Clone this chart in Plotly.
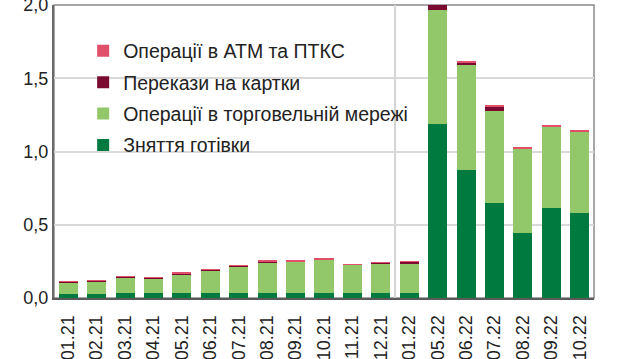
import plotly.graph_objects as go

categories = ["01.21", "02.21", "03.21", "04.21", "05.21", "06.21", "07.21", "08.21",
              "09.21", "10.21", "11.21", "12.21", "01.22", "05.22", "06.22", "07.22",
              "08.22", "09.22", "10.22"]

cash = [0.028, 0.028, 0.034, 0.032, 0.033, 0.034, 0.034, 0.034, 0.034, 0.034, 0.033, 0.033,
        0.033, 1.190, 0.875, 0.646, 0.447, 0.611, 0.578]
trade = [0.079, 0.083, 0.105, 0.100, 0.129, 0.155, 0.182, 0.211, 0.214, 0.227, 0.194, 0.201,
         0.203, 0.774, 0.713, 0.633, 0.572, 0.558, 0.557]
transfers = [0.006, 0.007, 0.008, 0.007, 0.007, 0.005, 0.006, 0.007, 0.004, 0.004, 0.003, 0.005,
             0.010, 0.040, 0.020, 0.030, 0.004, 0.003, 0.003]
atm = [0.003, 0.003, 0.003, 0.003, 0.003, 0.003, 0.003, 0.003, 0.002, 0.002, 0.002, 0.003,
       0.004, 0.002, 0.004, 0.003, 0.003, 0.003, 0.003]

names = ["Зняття готівки", "Операції в торговельній мережі", "Перекази на картки",
         "Операції в АТМ та ПТКС"]
colors = ["#007A3E", "#92C86A", "#7A0A30", "#E0506A"]
series = [cash, trade, transfers, atm]

font = "Liberation Sans, Arial, sans-serif"

fig = go.Figure()
for i, (nm, col, vals) in enumerate(zip(names, colors, series)):
    fig.add_trace(go.Bar(x=categories, y=vals, name=nm, marker_color=col,
                         marker_line_width=0, legendgroup=str(i), legendrank=10 - i))

sep_x = categories.index("01.22") - 0.5

fig.update_layout(
    width=640, height=359,
    barmode="stack", bargap=0.33,
    margin=dict(l=54, r=46, t=5, b=61, autoexpand=False),
    plot_bgcolor="white", paper_bgcolor="white",
    separators=", ",
    font=dict(family=font, size=18, color="#222222"),
    showlegend=True,
    legend=dict(x=0.054, y=0.909, xanchor="left", yanchor="top",
                traceorder="grouped", tracegroupgap=3,
                bgcolor="rgba(0,0,0,0)", font=dict(size=19.5, color="#222222")),
    xaxis=dict(type="category", tickangle=-90, showgrid=False, showline=True,
               linecolor="#5a5a5a", linewidth=2, ticks="", ticklabelstandoff=8,
               automargin=False, tickfont=dict(size=18, color="#222222")),
    yaxis=dict(range=[0, 2.0], tick0=0, dtick=0.5, tickformat=".1f", showgrid=True,
               gridcolor="#d9d9d9", gridwidth=1.5, showline=True, linecolor="#6a6a6a",
               linewidth=2, ticks="", zeroline=False, automargin=False,
               ticklabeloverflow="allow",
               tickfont=dict(size=18, color="#222222")),
    shapes=[
        dict(type="rect", xref="paper", yref="paper", x0=0, x1=1, y0=0, y1=1,
             line=dict(color="#8a8a8a", width=1.5), layer="below"),
        dict(type="line", xref="x", yref="paper", x0=sep_x, x1=sep_x, y0=0, y1=1,
             line=dict(color="#d4d4d4", width=2), layer="below"),
    ],
)

fig.write_html("out.html", config={"displayModeBar": False},
               post_script="document.body.style.margin='0';document.body.style.overflow='hidden';")
